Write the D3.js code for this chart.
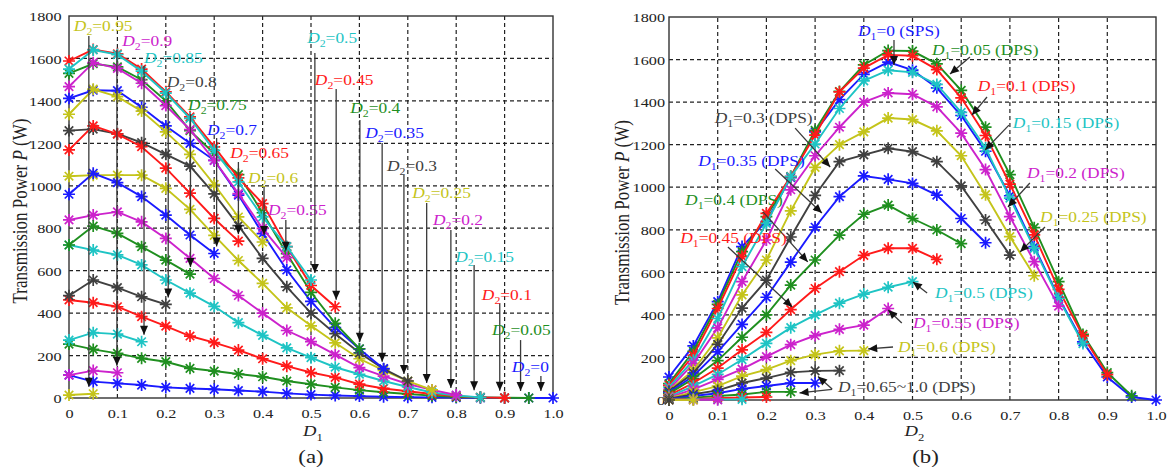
<!DOCTYPE html>
<html>
<head>
<meta charset="utf-8">
<script src="https://cdn.jsdelivr.net/npm/d3@7"></script>
<style>
  body { margin: 0; background: #fff; }
  svg text { font-family: "Liberation Serif", "Times New Roman", serif; }
</style>
</head>
<body>
<svg id="chart" width="1168" height="470"></svg>
<script>
// duty steps used on both axes
const steps = [0, 0.05, 0.1, 0.15, 0.2, 0.25, 0.3, 0.35, 0.4, 0.45, 0.5,
    0.55, 0.6, 0.65, 0.7, 0.75, 0.8, 0.85, 0.9, 0.95, 1.0]
const xTicks = [0, 0.1, 0.2, 0.3, 0.4, 0.5, 0.6, 0.7, 0.8, 0.9, 1.0]
const yTicks = [0, 200, 400, 600, 800, 1000, 1200, 1400, 1600, 1800]

// transmission power P (W) for one D2 value, listed along D1 = 0, 0.05, ... (D1 + D2 <= 1)
const p_d2_000 = [108, 77, 69, 61, 50, 45, 41, 35, 30, 22, 16, 12, 9, 6, 4, 3, 2, 1, 0, 0, 0]
const p_d2_005 = [254, 229, 210, 187, 171, 140, 127, 113, 100, 80, 65, 50, 37, 27, 19, 11, 5, 3, 1, 0]
const p_d2_010 = [462, 449, 430, 383, 339, 292, 261, 226, 185, 150, 120, 97, 65, 45, 32, 19, 9, 3, 1]
const p_d2_015 = [721, 697, 674, 627, 556, 494, 432, 355, 295, 236, 190, 145, 112, 80, 52, 26, 12, 3]
const p_d2_020 = [839, 862, 877, 830, 752, 658, 563, 483, 400, 318, 266, 204, 143, 103, 66, 38, 14]
const p_d2_025 = [1045, 1050, 1050, 1050, 988, 889, 766, 648, 540, 425, 340, 260, 185, 130, 80, 38]
const p_d2_030 = [1260, 1267, 1245, 1203, 1148, 1093, 962, 812, 658, 524, 400, 303, 213, 137, 80]
const p_d2_035 = [1412, 1450, 1448, 1370, 1282, 1200, 1120, 956, 775, 603, 455, 332, 231, 138]
const p_d2_040 = [1530, 1575, 1560, 1500, 1400, 1260, 1152, 1053, 873, 680, 498, 352, 232]
const p_d2_045 = [1588, 1642, 1622, 1550, 1443, 1325, 1183, 1037, 916, 713, 530, 430]
const p_d2_050 = [1550, 1640, 1618, 1540, 1437, 1318, 1167, 1018, 853, 713, 556]
const p_d2_055 = [1467, 1580, 1553, 1483, 1378, 1265, 1120, 963, 799, 661]
const p_d2_060 = [1337, 1455, 1420, 1352, 1254, 1148, 1006, 853, 735]
const p_d2_065 = [1169, 1282, 1243, 1184, 1083, 965, 846, 739]
const p_d2_070 = [960, 1059, 1015, 949, 862, 768, 681]
const p_d2_075 = [721, 810, 776, 713, 650, 584]
const p_d2_080 = [482, 556, 520, 477, 441]
const p_d2_085 = [273, 308, 301, 265]
const p_d2_090 = [108, 129, 119]
const p_d2_095 = [14, 20]
const p_d2_100 = [0]

const byD2 = [p_d2_000, p_d2_005, p_d2_010, p_d2_015, p_d2_020, p_d2_025, p_d2_030,
    p_d2_035, p_d2_040, p_d2_045, p_d2_050, p_d2_055, p_d2_060, p_d2_065, p_d2_070,
    p_d2_075, p_d2_080, p_d2_085, p_d2_090, p_d2_095, p_d2_100]

// colours (matlab style)
const C = { b: '#1a1aff', g: '#1f8f1f', r: '#ff1a1a', c: '#1ec4c4', m: '#cc22cc', y: '#c4c41a', k: '#404040' }
const leftColors = ['b', 'g', 'r', 'c', 'm', 'y', 'k', 'b', 'g', 'r', 'c', 'm', 'y', 'r', 'b', 'g', 'k', 'c', 'm', 'y']
const rightColors = ['b', 'g', 'r', 'c', 'm', 'y', 'k', 'b', 'g', 'r', 'c', 'm', 'y', 'k', 'b', 'g', 'r', 'c', 'm', 'y', 'k']

// left panel labels: [D2 text, label D1, label P, arrow D1, arrow top P]
const leftNotes = [
    ['0.95', 0.010, 1729, 0.041, 1706], ['0.9', 0.110, 1659, 0.099, 1640],
    ['0.85', 0.155, 1579, 0.155, 1565], ['0.8', 0.202, 1465, 0.205, 1442],
    ['0.75', 0.246, 1357, 0.251, 1338], ['0.7', 0.285, 1239, 0.305, 1225],
    ['0.65', 0.333, 1131, 0.350, 1112], ['0.6', 0.370, 1013, 0.403, 999],
    ['0.55', 0.411, 862, 0.448, 839], ['0.5', 0.492, 1673, 0.508, 1626],
    ['0.45', 0.508, 1475, 0.552, 1456], ['0.4', 0.581, 1343, 0.601, 1310],
    ['0.35', 0.612, 1225, 0.647, 1202], ['0.3', 0.657, 1070, 0.692, 1051],
    ['0.25', 0.709, 943, 0.739, 919], ['0.2', 0.752, 815, 0.789, 792],
    ['0.15', 0.798, 641, 0.837, 627], ['0.1', 0.853, 462, 0.890, 448],
    ['0.05', 0.874, 297, 0.933, 273], ['0', 0.915, 123, 0.975, 104]
]
const leftNoteSeries = [19, 18, 17, 16, 15, 14, 13, 12, 11, 10, 9, 8, 7, 6, 5, 4, 3, 2, 1, 0]

// right panel labels: [D1 text, colour, label D2, label P, arrow from D2,P, arrow to D2,P]
const rightNotes = [
    ['0 (SPS)', 'b', 0.388, 1711, 0.462, 1692, 0.462, 1574],
    ['0.05 (DPS)', 'g', 0.540, 1621, 0.618, 1612, 0.577, 1532],
    ['0.1 (DPS)', 'r', 0.634, 1454, 0.653, 1424, 0.622, 1339],
    ['0.15 (DPS)', 'c', 0.706, 1278, 0.698, 1292, 0.649, 1175],
    ['0.2 (DPS)', 'm', 0.735, 1043, 0.741, 1020, 0.696, 907],
    ['0.25 (DPS)', 'y', 0.762, 838, 0.772, 813, 0.721, 696],
    ['0.3 (DPS)', 'k', 0.094, 1303, 0.259, 1278, 0.331, 1095],
    ['0.35 (DPS)', 'b', 0.060, 1100, 0.218, 1086, 0.314, 879],
    ['0.4 (DPS)', 'g', 0.033, 916, 0.193, 884, 0.285, 649],
    ['0.45 (DPS)', 'r', 0.023, 738, 0.121, 719, 0.253, 437],
    ['0.5 (DPS)', 'c', 0.546, 479, 0.530, 503, 0.501, 555],
    ['0.55 (DPS)', 'm', 0.501, 338, 0.478, 362, 0.450, 423],
    ['0.6 (DPS)', 'y', 0.470, 226, 0.460, 249, 0.409, 240],
    ['0.65~1.0 (DPS)', 'k', 0.347, 38, 0.335, 52, 0.306, 110],
    ['', 'k', 0, 0, 0.335, 50, 0.268, 33]
]

const SX = 1.2
const svg = d3.select('#chart')

const panels = [
    { x0: 69, x1: 553, y0: 398, y1: 16, xName: '1', tag: '(a)', titleX: 20 },
    { x0: 669, x1: 1156, y0: 400, y1: 17, xName: '2', tag: '(b)', titleX: 622 }
]

function subText(g, x, y, sub, rest, color, size) {
    let t = g.append('text')
        .attr('transform', `translate(${x},${y}) scale(${SX},1)`)
        .attr('fill', color)
        .style('font-size', size + 'px')
    t.append('tspan').attr('font-style', 'italic').text('D')
    t.append('tspan').attr('dy', size * 0.3).style('font-size', (size * 0.68) + 'px').text(sub)
    t.append('tspan').attr('dy', -size * 0.3).text(rest)
    return t
}

function arrow(g, x1, y1, x2, y2) {
    g.append('line')
        .attr('x1', x1).attr('y1', y1).attr('x2', x2).attr('y2', y2)
        .attr('stroke', '#3a3a3a').attr('stroke-width', 1.3)
    let a = Math.atan2(y2 - y1, x2 - x1)
    let L = 9, W = 4
    let bx = x2 - L * Math.cos(a), by = y2 - L * Math.sin(a)
    g.append('path')
        .attr('d', `M${x2},${y2}L${bx - W * Math.sin(a)},${by + W * Math.cos(a)}L${bx + W * Math.sin(a)},${by - W * Math.cos(a)}Z`)
        .attr('fill', '#111')
}

const star = r => {
    let a = r * 0.707
    return `M${-r},0L${r},0M0,${-r}L0,${r}M${-a},${-a}L${a},${a}M${-a},${a}L${a},${-a}`
}

panels.forEach((p, pi) => {
    let x = d3.scaleLinear([0, 1], [p.x0, p.x1])
    let y = d3.scaleLinear([0, 1800], [p.y0, p.y1])
    let g = svg.append('g')

    // grid
    g.append('g').selectAll('line.gx').data(xTicks.slice(1, -1)).join('line')
        .attr('x1', d => x(d)).attr('x2', d => x(d)).attr('y1', p.y0).attr('y2', p.y1)
        .attr('stroke', '#222').attr('stroke-width', 1.2).attr('stroke-dasharray', '4,3')
    g.append('g').selectAll('line.gy').data(yTicks.slice(1, -1)).join('line')
        .attr('y1', d => y(d)).attr('y2', d => y(d)).attr('x1', p.x0).attr('x2', p.x1)
        .attr('stroke', '#222').attr('stroke-width', 1.2).attr('stroke-dasharray', '4,3')

    // axes labels
    g.append('g').attr('transform', `translate(0,${p.y0})`)
        .call(d3.axisBottom(x).tickValues(xTicks).tickSize(0)
            .tickFormat(d => d === 0 ? '0' : d3.format('.1f')(d)))
        .call(a => a.select('.domain').remove())
        .call(a => a.selectAll('text').attr('y', 0).attr('dy', null)
            .attr('transform', `translate(0,19.5) scale(${SX},1)`)
            .attr('fill', '#222').style('font-size', '13.5px').attr('font-family', null))
    g.append('g').attr('transform', `translate(${p.x0},0)`)
        .call(d3.axisLeft(y).tickValues(yTicks).tickSize(0).tickFormat(d3.format('d')))
        .call(a => a.select('.domain').remove())
        .call(a => a.selectAll('text').attr('x', 0).attr('dy', null)
            .attr('transform', `translate(${pi === 0 ? -7.5 : -4},4.7) scale(${SX},1)`)
            .attr('fill', '#222').style('font-size', '13.5px').attr('font-family', null))

    // frame
    g.append('rect').attr('x', p.x0).attr('y', p.y1)
        .attr('width', p.x1 - p.x0).attr('height', p.y0 - p.y1)
        .attr('fill', 'none').attr('stroke', '#333').attr('stroke-width', 1.4)

    // titles
    let yt = g.append('text')
        .attr('transform', `translate(${p.titleX},${(p.y0 + p.y1) / 2 + 4}) rotate(-90) scale(1,${SX})`)
        .attr('text-anchor', 'middle').attr('dy', '0.35em')
        .attr('fill', '#222').style('font-size', '17px')
    yt.append('tspan').text('Transmission Power ')
    yt.append('tspan').attr('font-style', 'italic').text('P')
    yt.append('tspan').text(' (W)')

    subText(g, (p.x0 + p.x1) / 2 - 8, 436, p.xName, '', '#222', 15.5)
    g.append('text')
        .attr('transform', `translate(${(p.x0 + p.x1) / 2 + (pi === 0 ? 0 : 13)},463) scale(${SX},1)`)
        .attr('text-anchor', 'middle').attr('fill', '#222').style('font-size', '19px').text(p.tag)

    // series
    let series = []
    if (pi === 0) {
        for (let j = 0; j < 20; j++) {
            series.push({ color: C[leftColors[j]], pts: byD2[j].map((v, i) => [steps[i], v]) })
        }
    } else {
        for (let i = 0; i < 21; i++) {
            let pts = []
            for (let j = 0; j + i < 21; j++) pts.push([steps[j], byD2[j][i]])
            series.push({ color: C[rightColors[i]], pts })
        }
    }
    let line = d3.line().x(d => x(d[0])).y(d => y(d[1]))
    let sg = g.append('g')
    series.forEach(s => {
        let ss = sg.append('g')
        ss.append('path').attr('d', line(s.pts))
            .attr('fill', 'none').attr('stroke', s.color).attr('stroke-width', 1.9)
        ss.selectAll('path.mk').data(s.pts).join('path')
            .attr('transform', d => `translate(${x(d[0])},${y(d[1])})`)
            .attr('d', star(6)).attr('stroke', s.color).attr('stroke-width', 1.7).attr('fill', 'none')
    })

    // annotations
    let ag = g.append('g')
    if (pi === 0) {
        leftNotes.forEach((n, k) => {
            let s = series[leftNoteSeries[k]]
            let end = s.pts[s.pts.length - 1]
            arrow(ag, x(n[3]), y(n[4]), x(n[3]), y(end[1]) - 7)
            subText(ag, x(n[1]), y(n[2]), '2', '=' + n[0], s.color, 14.5)
        })
    } else {
        rightNotes.forEach(n => {
            arrow(ag, x(n[4]), y(n[5]), x(n[6]), y(n[7]))
            if (n[0]) subText(ag, x(n[2]), y(n[3]), '1', '=' + n[0], C[n[1]], 14.5)
        })
    }
})
</script>
</body>
</html>
